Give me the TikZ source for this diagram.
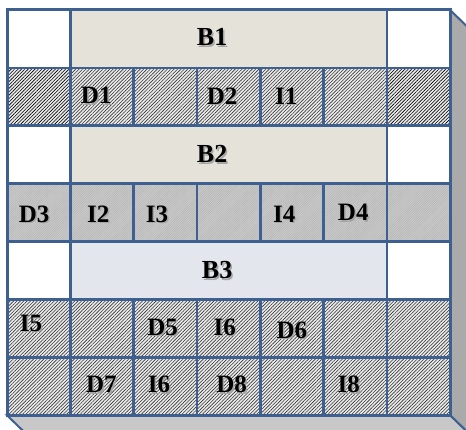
\documentclass[tikz,border=0pt]{standalone}
\usepackage{fontspec}
\setmainfont{Liberation Serif}
\usepackage{tikz}
\usetikzlibrary{calc,patterns.meta}
\usepackage{xcolor}

\definecolor{gridblue}{RGB}{62,96,145}
\definecolor{stone}{RGB}{229,226,218}
\definecolor{frost}{RGB}{227,231,237}
\definecolor{hatchbg}{RGB}{236,236,236}
\definecolor{slab}{RGB}{200,200,200}
\definecolor{sideface}{RGB}{170,170,170}
\definecolor{baseface}{RGB}{200,200,200}

% label with a soft drop shadow
\newcommand{\shd}[1]{\makebox[0pt][l]{\hspace{1.5pt}\raisebox{-1.5pt}{\textcolor{black!35}{#1}}}#1}

\tikzset{
  hatched/.style={fill=hatchbg,postaction={pattern={Lines[angle=45,distance=2.4pt,line width=0.6pt]},pattern color=#1}},
  hatched/.default=black!80,
  slabcell/.style={fill=slab,postaction={pattern={Lines[angle=45,distance=1.6pt,line width=0.3pt]},pattern color=black!30}},
  gridline/.style={draw=gridblue,line width=2.6pt},
  lab/.style={font=\bfseries\fontsize{25}{25}\selectfont,inner sep=0pt},
  blab/.style={font=\bfseries\fontsize{26}{26}\selectfont,inner sep=0pt}
}

\begin{document}
\begin{tikzpicture}[x=63.3pt,y=-57.9pt]
\useasboundingbox (-0.1106,-0.1727) rectangle (7.2512,7.2539);
\clip (-0.1106,-0.1727) rectangle (7.2512,7.2539);
\coordinate (TL) at (0,0);
\coordinate (TR) at (7,0);
\coordinate (BR) at (7,7);
\coordinate (BL) at (0,7);
\coordinate (d) at (0.33,0.35);
% depth faces
\filldraw[fill=sideface,draw=gridblue,line width=2pt] (TR) -- ($(TR)+(d)$) -- ($(BR)+(d)$) -- (BR) -- cycle;
\filldraw[fill=baseface,draw=gridblue,line width=2pt] (BL) -- (BR) -- ($(BR)+(d)$) -- ($(BL)+(d)$) -- cycle;
% rows
\fill[white] (0,0) rectangle (7,1);
\fill[stone] (1,0) rectangle (6,1);
\foreach \c in {1,...,5} \fill[hatched] (\c,1) rectangle (\c+1,2);
\fill[hatched=black] (0,1) rectangle (1,2);
\fill[hatched=black] (6,1) rectangle (7,2);
\fill[white] (0,2) rectangle (7,3);
\fill[stone] (1,2) rectangle (6,3);
\fill[slabcell] (0,3) rectangle (7,4);
\fill[white] (0,4) rectangle (7,5);
\fill[frost] (1,4) rectangle (6,5);
\fill[hatched] (0,5) rectangle (7,7);
% grid
\foreach \r in {1,...,6} \draw[gridline] (0,\r) -- (7,\r);
\foreach \c in {1,6} \draw[gridline] (\c,0) -- (\c,7);
\foreach \r in {1,3,5,6}
  \foreach \c in {2,...,5} \draw[gridline] (\c,\r) -- (\c,\r+1);
\draw[gridline,line width=3pt] (TL) rectangle (BR);
% labels
\node[blab] (b1) at (3.24,0.48) {\shd{B1}};
\node[lab] (d1) at (1.41,1.49) {\shd{D1}};
\node[lab] (d2) at (3.40,1.50) {\shd{D2}};
\node[lab] (i1) at (4.41,1.50) {\shd{I1}};
\node[blab] (b2) at (3.24,2.50) {\shd{B2}};
\node[lab] (d3) at (0.43,3.54) {\shd{D3}};
\node[lab] (i2) at (1.44,3.54) {\shd{I2}};
\node[lab] (i3) at (2.37,3.54) {\shd{I3}};
\node[lab] (i4) at (4.38,3.54) {\shd{I4}};
\node[lab] (d4) at (5.47,3.51) {\shd{D4}};
\node[blab] (b3) at (3.32,4.51) {\shd{B3}};
\node[lab] (i5) at (0.38,5.42) {\shd{I5}};
\node[lab] (d5) at (2.46,5.49) {\shd{D5}};
\node[lab] (i6a) at (3.44,5.49) {\shd{I6}};
\node[lab] (d6) at (4.50,5.54) {\shd{D6}};
\node[lab] (d7) at (1.49,6.48) {\shd{D7}};
\node[lab] (i6b) at (2.40,6.48) {\shd{I6}};
\node[lab] (d8) at (3.55,6.48) {\shd{D8}};
\node[lab] (i8) at (5.40,6.48) {\shd{I8}};
\end{tikzpicture}
\end{document}
